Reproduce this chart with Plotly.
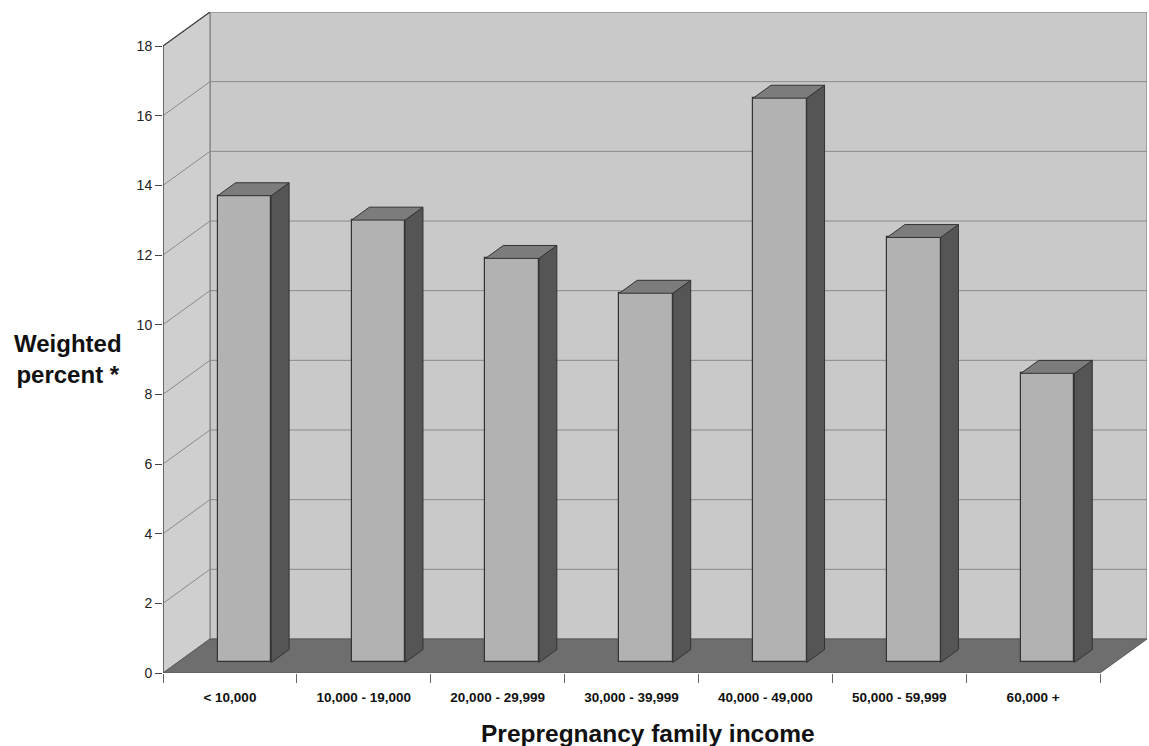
import plotly.graph_objects as go

# ---------------- data ----------------
categories = ["< 10,000", "10,000 - 19,000", "20,000 - 29,999", "30,000 - 39,999",
              "40,000 - 49,000", "50,000 - 59,999", "60,000 +"]
values = [13.4, 12.7, 11.6, 10.6, 16.2, 12.2, 8.3]
y_ticks = [0, 2, 4, 6, 8, 10, 12, 14, 16, 18]

# ---------------- 3D look parameters (data units) ----------------
n = len(categories)
YMAX = y_ticks[-1]
DX, DY = 0.351, 0.976          # full depth shear
F0, F1 = 0.31, 0.69            # bar depth span (fraction of depth)
BW = 0.40                      # bar width
XL, XR = -0.5, n - 0.5         # front plane x extents

WALL = "#c9c9c9"
LWALL = "#cfcfcf"
FLOOR = "#6e6e6e"
FRONT = "#b2b2b2"
SIDE = "#555555"
TOP = "#7c7c7c"
EDGE = "#333333"
GRID = "#8a8a8a"

fig = go.Figure()
shapes = []

def path(xs, ys):
    return "M " + " L ".join(f"{x},{y}" for x, y in zip(xs, ys)) + " Z"

# back wall
shapes.append(dict(type="path", layer="below", xref="x", yref="y",
                   path=path([XL + DX, XR + DX, XR + DX, XL + DX], [DY, DY, YMAX + DY, YMAX + DY]),
                   fillcolor=WALL, line=dict(color="#777777", width=1)))
# left wall
shapes.append(dict(type="path", layer="below", xref="x", yref="y",
                   path=path([XL, XL + DX, XL + DX, XL], [0, DY, YMAX + DY, YMAX]),
                   fillcolor=LWALL, line=dict(color="#777777", width=1)))
# gridlines on left wall and back wall
for t in y_ticks[1:-1]:
    shapes.append(dict(type="path", layer="below", xref="x", yref="y",
                       path=f"M {XL},{t} L {XL + DX},{t + DY} L {XR + DX},{t + DY}",
                       line=dict(color=GRID, width=1)))
# floor
shapes.append(dict(type="path", layer="below", xref="x", yref="y",
                   path=path([XL, XR, XR + DX, XL + DX], [0, 0, DY, DY]),
                   fillcolor=FLOOR, line=dict(color="#5a5a5a", width=1)))

# bars: front faces (library bars)
b0 = F0 * DY
fig.add_trace(go.Bar(x=[i + F0 * DX for i in range(n)], y=values, base=b0, width=BW,
                     marker=dict(color=FRONT, line=dict(color=EDGE, width=1.2)),
                     hoverinfo="skip", showlegend=False))

# bars: side and top faces
ddx, ddy = (F1 - F0) * DX, (F1 - F0) * DY
sx, sy, tx, ty = [], [], [], []
for i, v in enumerate(values):
    xc = i + F0 * DX
    xl, xr = xc - BW / 2, xc + BW / 2
    top = b0 + v
    sx += [xr, xr, xr + ddx, xr + ddx, xr, None]
    sy += [b0, top, top + ddy, b0 + ddy, b0, None]
    tx += [xl, xr, xr + ddx, xl + ddx, xl, None]
    ty += [top, top, top + ddy, top + ddy, top, None]
fig.add_trace(go.Scatter(x=sx, y=sy, mode="lines", fill="toself", fillcolor=SIDE,
                         line=dict(color=EDGE, width=1), hoverinfo="skip", showlegend=False))
fig.add_trace(go.Scatter(x=tx, y=ty, mode="lines", fill="toself", fillcolor=TOP,
                         line=dict(color=EDGE, width=1), hoverinfo="skip", showlegend=False))

# value axis line + top-left wall edge
fig.add_trace(go.Scatter(x=[XL, XL, XL + DX], y=[0, YMAX, YMAX + DY], mode="lines",
                         line=dict(color="#444444", width=1.2), hoverinfo="skip",
                         showlegend=False, cliponaxis=False))

fig.update_layout(
    width=1149, height=746,
    margin=dict(l=163, r=2, t=12, b=73),
    paper_bgcolor="white", plot_bgcolor="white",
    font=dict(family="Arial, Liberation Sans, sans-serif", color="#222222"),
    bargap=0,
    shapes=shapes,
    xaxis=dict(range=[XL, XR + DX], tickmode="array", tickvals=list(range(n)),
               ticktext=categories, ticks="", showgrid=False, zeroline=False,
               showline=False, ticklabelstandoff=14,
               tickfont=dict(size=13.5, weight="bold", color="#111111"),
               minor=dict(tickmode="array", tickvals=[k - 0.5 for k in range(n + 1)],
                          ticks="outside", ticklen=9, tickcolor="#666666", tickwidth=1,
                          showgrid=False)),
    yaxis=dict(range=[0, YMAX + DY], tickmode="array", tickvals=y_ticks, ticks="outside",
               ticklen=7, tickcolor="#444444", showgrid=False, zeroline=False,
               showline=False, tickfont=dict(size=14, color="#222222")),
    annotations=[
        dict(text="Weighted<br>percent *", xref="paper", yref="paper",
             x=(68 - 163) / 984, y=(673 - 359) / 661, xanchor="center", yanchor="middle",
             showarrow=False, font=dict(size=24, weight="bold", color="#111111")),
        dict(text="Prepregnancy family income", xref="paper", yref="paper",
             x=(648 - 163) / 984, y=(673 - 733) / 661, xanchor="center", yanchor="middle",
             showarrow=False, font=dict(size=24.5, weight="bold", color="#111111")),
    ],
)

fig.write_html("out.html")
